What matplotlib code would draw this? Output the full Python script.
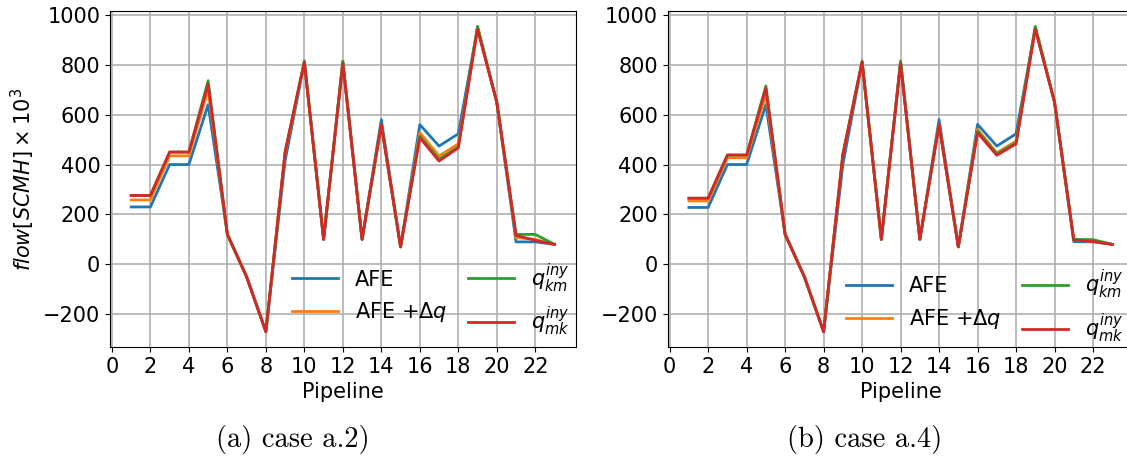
import numpy as np
import matplotlib.pyplot as plt

# pipeline index 1..23
pipes = list(range(1, 24))

# case a.2)
afe_a2 = [230, 230, 400, 400, 640, 120, -50, -270, 415, 810, 100, 810, 100, 580, 70, 560, 474, 523, 948, 650, 90, 90, 80]
afedq_a2 = [258, 258, 435, 435, 700, 120, -50, -270, 445, 810, 100, 810, 100, 560, 70, 528, 434, 483, 948, 650, 107, 100, 80]
qkm_a2 = [276, 276, 450, 450, 736, 120, -50, -270, 450, 815, 100, 815, 100, 560, 70, 514, 421, 471, 954, 650, 120, 120, 80]
qmk_a2 = [276, 276, 450, 450, 721, 120, -50, -270, 450, 810, 100, 805, 100, 560, 70, 507, 414, 467, 942, 650, 116, 96, 80]

# case a.4)
afe_a4 = [228, 228, 400, 400, 640, 120, -50, -270, 400, 810, 100, 810, 100, 580, 70, 561, 474, 523, 948, 650, 91, 90, 80]
afedq_a4 = [254, 254, 427, 427, 681, 120, -50, -270, 440, 810, 100, 810, 100, 560, 70, 541, 447, 494, 948, 650, 97, 92, 80]
qkm_a4 = [265, 265, 438, 438, 715, 120, -50, -270, 440, 815, 100, 815, 100, 560, 70, 534, 443, 487, 954, 650, 100, 99, 80]
qmk_a4 = [265, 265, 438, 438, 705, 120, -50, -270, 440, 810, 100, 805, 100, 560, 70, 527, 437, 483, 942, 650, 97, 92, 80]

labels = ['AFE', r'AFE $+\Delta q$', r'$q_{km}^{iny}$', r'$q_{mk}^{iny}$']
xticks = list(range(0, 24, 2))

plt.rcParams['font.size'] = 15

fig = plt.figure(figsize=(11.27, 4.73), dpi=100)
ax1 = fig.add_axes([0.0976, 0.2664, 0.4132, 0.7103])
ax2 = fig.add_axes([0.5925, 0.2664, 0.4132, 0.7103])


def draw(ax, series, anchor):
    for s, lab in zip(series, labels):
        ax.plot(pipes, s, linewidth=2, label=lab)
    ax.grid(True, linewidth=1.2)
    ax.set_xticks(xticks)
    ax.set_xlabel('Pipeline')
    ax.legend(ncol=2, frameon=False, loc='lower right', bbox_to_anchor=anchor,
              columnspacing=1.0, handlelength=2.2)


draw(ax1, [afe_a2, afedq_a2, qkm_a2, qmk_a2], (1.026, -0.03))
draw(ax2, [afe_a4, afedq_a4, qkm_a4, qmk_a4], (1.018, -0.05))
ax1.set_ylabel(r'$flow[SCMH] \times 10^3$')

fig.text(0.2595, 0.07, '(a) case a.2)', ha='center', va='center',
         fontsize=20.5, family='cmr10')
fig.text(0.7675, 0.07, '(b) case a.4)', ha='center', va='center',
         fontsize=20.5, family='cmr10')

fig.savefig('out.png', dpi=100)
